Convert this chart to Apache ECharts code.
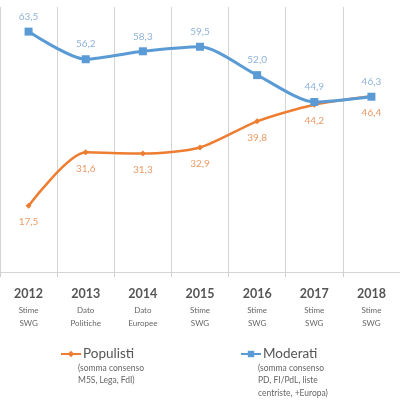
<!DOCTYPE html>
<html>
<head>
    <meta charset="utf-8">
    <title>Populisti vs Moderati</title>
    <script src="https://cdn.jsdelivr.net/npm/echarts@6/dist/echarts.min.js"></script>
    <style>
        html, body { margin: 0; padding: 0; background: #fff; }
    </style>
</head>
<body>
<div id="main" style="width: 400px;height:403px;"></div>
<script type="text/javascript">
    var years = ['2012', '2013', '2014', '2015', '2016', '2017', '2018'];
    var sources = [['Stime', 'SWG'], ['Dato', 'Politiche'], ['Dato', 'Europee'], ['Stime', 'SWG'],
        ['Stime', 'SWG'], ['Stime', 'SWG'], ['Stime', 'SWG']];
    var populisti = [17.5, 31.6, 31.3, 32.9, 39.8, 44.2, 46.4];
    var moderati = [63.5, 56.2, 58.3, 59.5, 52.0, 44.9, 46.3];

    var myChart = echarts.init(document.getElementById('main'));
    var font = 'Lato';

    // valori con la virgola come separatore decimale
    function comma(p) {
        return p.value.toFixed(1).replace('.', ',');
    }

    var option = {
        backgroundColor: '#fff',
        animation: false,
        textStyle: { fontFamily: font },
        grid: { left: -5, right: -15, top: 7, bottom: 131 },
        legend: [{
            left: 55, top: 342,
            itemWidth: 20, itemHeight: 8,
            textStyle: { fontSize: 13.5, color: '#555', fontFamily: font, padding: [0, 0, 0, -3] },
            data: ['Populisti']
        }, {
            left: 235, top: 342,
            itemWidth: 20, itemHeight: 8,
            textStyle: { fontSize: 13.5, color: '#555', fontFamily: font, padding: [0, 0, 0, -3] },
            data: ['Moderati']
        }],
        graphic: [{
            type: 'text', left: 78, top: 362,
            style: { text: '(somma consenso\nM5S, Lega, FdI)', fill: '#666', font: '8.5px Lato', lineHeight: 12.5 }
        }, {
            type: 'text', left: 258, top: 362,
            style: { text: '(somma consenso\nPD, FI/PdL, liste\ncentriste, +Europa)', fill: '#666', font: '8.5px Lato', lineHeight: 12.5 }
        }],
        xAxis: {
            type: 'category',
            data: years,
            boundaryGap: true,
            axisLine: { lineStyle: { color: '#d4d4d4', width: 1 } },
            axisTick: { show: true, interval: 0, length: 5, lineStyle: { color: '#cfcfcf' } },
            splitLine: { show: true, interval: 0, lineStyle: { color: '#d4d4d4', width: 1 } },
            axisLabel: {
                interval: 0,
                margin: 12,
                formatter: function (v, i) {
                    return '{y|' + v + '}\n{s|' + sources[i][0] + '}\n{s|' + sources[i][1] + '}';
                },
                rich: {
                    y: { fontSize: 12.5, fontWeight: 'bold', color: '#555', fontFamily: font, lineHeight: 20 },
                    s: { fontSize: 8, color: '#666', fontFamily: font, lineHeight: 13 }
                }
            }
        },
        yAxis: {
            type: 'value',
            min: 0,
            max: 70,
            show: false,
            splitLine: { show: false }
        },
        series: [{
            name: 'Moderati',
            type: 'line',
            data: moderati,
            smooth: 0.25,
            symbol: 'rect',
            symbolSize: 8,
            itemStyle: { color: '#5b9bd5' },
            lineStyle: { color: '#5b9bd5', width: 3 },
            label: {
                show: true, position: 'top', distance: 6,
                formatter: comma,
                color: '#8fb3d9', fontSize: 10, fontFamily: font
            },
            z: 3
        }, {
            name: 'Populisti',
            type: 'line',
            data: populisti,
            smooth: 0.25,
            symbol: 'diamond',
            symbolSize: 6,
            itemStyle: { color: '#ed7d31' },
            lineStyle: { color: '#ed7d31', width: 2.5 },
            label: {
                show: true, position: 'bottom', distance: 8,
                formatter: comma,
                color: '#eb9a66', fontSize: 10, fontFamily: font
            },
            z: 2
        }]
    };

    myChart.setOption(option);
</script>
</body>
</html>
